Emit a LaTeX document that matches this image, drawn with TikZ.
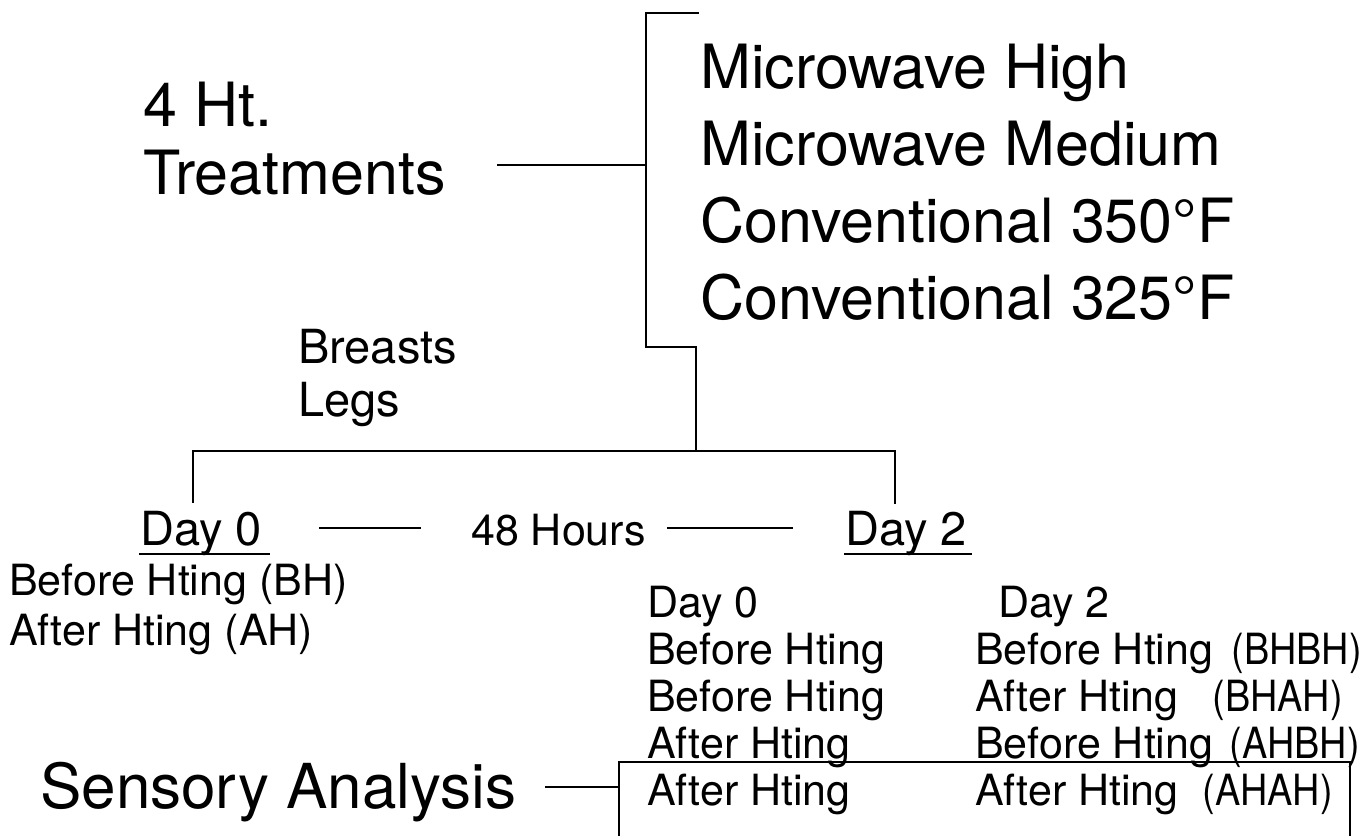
\documentclass[tikz,border=0pt]{standalone}
\usepackage{fontspec}
\setmainfont{TeX Gyre Heros}
\tikzset{
	big/.style={font=\fontsize{61}{64}\selectfont,anchor=base west,inner sep=0pt},
	mid/.style={font=\fontsize{47}{50}\selectfont,anchor=base west,inner sep=0pt},
	small/.style={font=\fontsize{43}{46}\selectfont,anchor=base west,inner sep=0pt},
	code/.style={font=\fontsize{43}{46}\selectfont,anchor=base east,inner sep=0pt,xscale=0.88,transform shape},
	wire/.style={line width=1.9pt,line cap=rect},
}
\begin{document}
\begin{tikzpicture}[x=1pt,y=-1pt]
	\useasboundingbox (0,0) rectangle (1370,835);
	% heating treatments
	\node[big] (ht) at (143,126) {4 Ht.};
	\node[big] (treat) at (143,194) {Treatments};
	\node[big] (mwh) at (700,88) {Microwave High};
	\node[big] (mwm) at (700,165) {Microwave Medium};
	\node[big] (c350) at (700,242) {Conventional 350°F};
	\node[big] (c325) at (700,319) {Conventional 325°F};
	\coordinate (tin) at (498,165);
	\coordinate (brtop) at (698,13);
	\coordinate (brbot) at (646,347);
	\draw[wire] (tin) -- (tin -| brbot);
	\draw[wire] (brtop) -- (brtop -| brbot) -- (brbot) -- ++(50,0) -- ++(0,104) coordinate (split);
	% cuts
	\node[mid] (breasts) at (298,363) {Breasts};
	\node[mid] (legs) at (298,416) {Legs};
	\draw[wire] (193,502) -- (193,451) -- (split) -- (895,451) -- (895,503);
	% days
	\node[mid] (d0) at (140,545) {Day 0};
	\node[mid] (d2) at (845,545) {Day 2};
	\node[small] (hours) at (471,545) {48 Hours};
	\draw[wire] (d0.base west) ++(0,9) -- ++(129,0);
	\draw[wire] (d2.base west) ++(0,9) -- ++(126,0);
	\draw[wire] (320,528) -- (420,528);
	\draw[wire] (668,528) -- (792,528);
	\node[small] (bh) at (9,595) {Before Hting (BH)};
	\node[small] (ah) at (9,645) {After Hting (AH)};
	% handling table
	\node[small] (h0) at (647,617) {Day 0};
	\node[small] (h2) at (998,617) {Day 2};
	\node[small] (a1) at (647,664) {Before Hting};
	\node[small] (a2) at (647,711) {Before Hting};
	\node[small] (a3) at (647,758) {After Hting};
	\node[small] (a4) at (647,805) {After Hting};
	\node[small] (b1) at (975,664) {Before Hting};
	\node[small] (b2) at (975,711) {After Hting};
	\node[small] (b3) at (975,758) {Before Hting};
	\node[small] (b4) at (975,805) {After Hting};
	\node[code] (c1) at (1362,664) {(BHBH)};
	\node[code] (c2) at (1343,711) {(BHAH)};
	\node[code] (c3) at (1360,758) {(AHBH)};
	\node[code] (c4) at (1333,805) {(AHAH)};
	% sensory
	\node[big,font=\fontsize{62}{64}\selectfont] (sens) at (40,808) {Sensory Analysis};
	\draw[wire] (546,787) -- (619,787);
	\draw[wire] (619,836) -- (619,762) -- (1350,762) -- (1350,836);
\end{tikzpicture}
\end{document}
